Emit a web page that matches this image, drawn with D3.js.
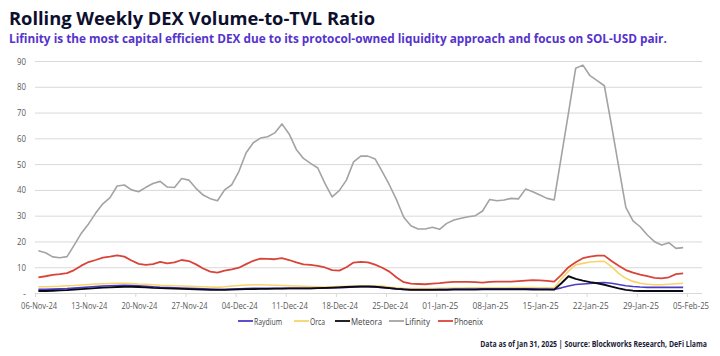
<!DOCTYPE html>
<html>
<head>
<meta charset="utf-8">
<script src="https://cdn.jsdelivr.net/npm/d3@7/dist/d3.min.js"></script>
<style>
  html, body { margin: 0; padding: 0; background: #ffffff; }
  svg { display: block; }
  text { font-family: "Open Sans", "Noto Sans", sans-serif; }
</style>
</head>
<body>
<svg id="chart" width="720" height="356"></svg>
<script>
// ---------------- DATA ----------------
const startDate = "2024-11-06";
const dayCount = 91;
const seriesNames = ["Raydium", "Orca", "Meteora", "Lifinity", "Phoenix"];
const seriesColors = ["#4b3cc8", "#f7d46a", "#0a0a14", "#a3a3a3", "#d9443a"];

const raydium = [1.4,1.4,1.5,1.6,1.7,1.9,2.1,2.3,2.5,2.7,
  2.8,2.9,3.0,2.9,2.8,2.6,2.4,2.2,2.1,2.0,
  1.9,1.8,1.7,1.6,1.5,1.4,1.4,1.5,1.6,1.7,
  1.8,1.8,1.8,1.8,1.8,1.8,1.8,1.8,1.8,1.9,
  1.9,2.0,2.1,2.2,2.3,2.4,2.4,2.3,2.1,1.9,
  1.6,1.4,1.3,1.3,1.3,1.3,1.4,1.4,1.5,1.5,
  1.5,1.5,1.6,1.6,1.6,1.6,1.6,1.6,1.6,1.6,
  1.5,1.5,1.4,2.0,2.7,3.3,3.5,3.7,4.0,4.1,
  3.8,3.3,2.8,2.5,2.3,2.2,2.2,2.2,2.2,2.2,2.2];

const orca = [2.4,2.4,2.5,2.6,2.8,2.9,3.1,3.3,3.5,3.6,
  3.7,3.8,3.8,3.7,3.5,3.4,3.2,3.0,2.9,2.8,
  2.7,2.6,2.5,2.4,2.3,2.2,2.4,2.7,2.9,3.1,
  3.2,3.2,3.1,3.0,2.9,2.8,2.7,2.6,2.5,2.4,
  2.3,2.4,2.5,2.6,2.7,2.8,2.8,2.7,2.7,2.3,
  2.0,1.8,1.7,1.7,1.7,1.7,1.8,1.8,1.9,1.9,
  2.0,2.0,2.0,2.0,2.0,2.0,2.1,2.1,2.1,2.1,
  2.0,2.0,2.0,5.5,8.5,10.9,11.5,12.0,12.2,12.3,
  10.2,7.6,5.7,4.5,3.8,3.4,3.2,3.2,3.4,3.6,3.8];

const meteora = [0.8,0.8,0.9,1.0,1.1,1.3,1.5,1.7,1.9,2.1,
  2.2,2.3,2.4,2.4,2.3,2.2,2.0,1.9,1.8,1.7,
  1.6,1.5,1.4,1.3,1.2,1.2,1.2,1.3,1.4,1.5,
  1.5,1.6,1.6,1.7,1.7,1.8,1.8,1.8,1.8,1.9,
  2.0,2.1,2.2,2.3,2.4,2.5,2.5,2.4,2.2,1.9,
  1.6,1.4,1.2,1.2,1.2,1.2,1.2,1.2,1.3,1.3,
  1.3,1.3,1.4,1.4,1.4,1.4,1.4,1.4,1.4,1.3,
  1.3,1.3,1.3,3.8,6.5,5.5,4.8,4.2,3.8,3.2,
  2.5,1.8,1.2,0.9,0.8,0.8,0.8,0.8,0.8,0.8,0.8];

const lifinity = [16.4,15.6,14.0,13.7,14.1,18.6,23.2,26.8,31.0,34.6,
  37.0,41.5,41.9,40.0,39.3,41.0,42.5,43.3,41.1,40.9,
  44.4,43.8,40.6,38.0,36.6,35.8,40.0,42.0,47.2,54.4,
  58.3,60.1,60.6,62.1,65.6,61.7,55.7,52.2,50.3,48.5,
  42.5,37.3,39.7,43.8,50.9,53.1,53.1,52.0,47.1,41.9,
  36.1,29.4,26.1,24.8,24.8,25.5,24.7,27.0,28.3,29.0,
  29.6,30.0,31.8,36.3,35.8,36.1,36.7,36.5,40.3,39.3,
  38.0,36.7,36.1,53.0,70.0,87.2,88.4,84.3,82.4,80.4,
  65.0,49.0,33.2,28.0,25.7,22.5,19.9,18.6,19.5,17.3,17.6];

const phoenix = [6.1,6.5,7.0,7.3,7.7,8.9,10.6,12.0,12.8,13.7,
  14.1,14.6,14.1,12.6,11.3,10.9,11.2,12.1,11.5,11.9,
  12.8,12.4,11.1,9.5,8.3,7.9,8.7,9.2,9.8,11.2,
  12.5,13.3,13.2,13.1,13.5,12.8,11.9,11.1,10.9,10.5,
  9.9,8.9,8.7,10.0,11.8,12.1,11.9,11.0,9.8,8.3,
  6.0,4.2,3.6,3.5,3.4,3.6,3.8,4.1,4.3,4.3,
  4.3,4.2,4.0,4.3,4.4,4.4,4.4,4.6,4.8,5.0,
  4.9,4.7,4.4,7.0,10.0,11.9,13.5,14.1,14.5,14.5,
  12.4,10.6,8.9,7.9,7.1,6.5,5.9,5.7,6.1,7.3,7.6];

const yTickValues = [0,10,20,30,40,50,60,70,80,90];
const xTickLabels = ["06-Nov-24","13-Nov-24","20-Nov-24","27-Nov-24","04-Dec-24","11-Dec-24","18-Dec-24","25-Dec-24","01-Jan-25","08-Jan-25","15-Jan-25","22-Jan-25","29-Jan-25","05-Feb-25"];

const titleText = "Rolling Weekly DEX Volume-to-TVL Ratio";
const subtitleText = "Lifinity is the most capital efficient DEX due to its protocol-owned liquidity approach and focus on SOL-USD pair.";
const sourceText = "Data as of Jan 31, 2025 | Source: Blockworks Research, DeFi Llama";

// ---------------- CHART ----------------
const svg = d3.select("#chart");
const DAY = 86400000;
const t0 = new Date(startDate + "T00:00:00Z");
const dates = d3.range(dayCount).map(i => new Date(t0.getTime() + i * DAY + 0.47 * DAY));
const allSeries = [raydium, orca, meteora, lifinity, phoenix];

const plotLeft = 35, plotRight = 702, plotTop = 61, plotBottom = 293;
const x = d3.scaleUtc()
  .domain([t0, new Date(t0.getTime() + 93.1 * DAY)])
  .range([plotLeft, plotRight]);
const y = d3.scaleLinear().domain([0, 90]).range([plotBottom, plotTop]);

const parseTick = d3.utcParse("%d-%b-%y");
const tickDates = xTickLabels.map(s => parseTick(s));

// titles
svg.append("text").attr("x", 9).attr("y", 25)
  .attr("font-family", "'DejaVu Sans', sans-serif")
  .attr("font-weight", "bold").attr("font-size", 18.5)
  .attr("fill", "#0d0f2e")
  .attr("textLength", 366).attr("lengthAdjust", "spacingAndGlyphs")
  .text(titleText);
svg.append("g").attr("transform", "translate(9,43) scale(0.745,1)")
  .append("text").attr("x", 0).attr("y", 0)
  .attr("font-family", "'DejaVu Sans', sans-serif")
  .attr("font-weight", "bold").attr("font-size", 12)
  .attr("fill", "#5533cc")
  .attr("textLength", 883).attr("lengthAdjust", "spacingAndGlyphs")
  .text(subtitleText);

// gridlines + y labels
const yAxis = d3.axisLeft(y).tickValues(yTickValues)
  .tickSize(-(plotRight - plotLeft)).tickPadding(9)
  .tickFormat(d => d === 0 ? "-" : d3.format("d")(d));
const gy = svg.append("g").attr("transform", `translate(${plotLeft},0)`).call(yAxis);
gy.select(".domain").remove();
gy.selectAll(".tick line").attr("stroke", "#d9d9d9").attr("stroke-width", 1);
gy.selectAll(".tick text").attr("fill", "#595959").attr("font-size", 9.5)
  .attr("font-family", "'Open Sans', sans-serif")
  .each(function(d) {
    if (d !== 0) d3.select(this).attr("textLength", 9).attr("lengthAdjust", "spacingAndGlyphs");
  });

// x axis
const xAxis = d3.axisBottom(x).tickValues(tickDates)
  .tickSize(4).tickPadding(5)
  .tickFormat((d, i) => xTickLabels[i]);
const gx = svg.append("g").attr("transform", `translate(0,${plotBottom})`).call(xAxis);
gx.select(".domain").attr("stroke", "#d9d9d9").attr("d", `M${plotLeft},0.5H${plotRight}`);
gx.selectAll(".tick line").attr("stroke", "#d9d9d9");
gx.selectAll(".tick text").attr("fill", "#595959").attr("font-size", 9.5)
  .attr("font-family", "'Open Sans', sans-serif")
  .attr("dx", 3.6)
  .attr("textLength", 36).attr("lengthAdjust", "spacingAndGlyphs");

// lines
const line = d3.line().x((d, i) => x(dates[i])).y(d => y(d));
const drawOrder = [3, 4, 1, 0, 2];
const widths = [1.6, 1.6, 1.9, 1.6, 1.8];
drawOrder.forEach(k => {
  svg.append("path").datum(allSeries[k])
    .attr("fill", "none").attr("stroke", seriesColors[k])
    .attr("stroke-width", widths[k]).attr("stroke-linejoin", "round")
    .attr("d", line);
});

// legend
const legendX = [238, 294, 335, 389, 438];
const legendTextW = [28, 15, 31, 25, 29];
const lg = svg.append("g");
seriesNames.forEach((n, i) => {
  lg.append("line").attr("x1", legendX[i]).attr("x2", legendX[i] + 15)
    .attr("y1", 321).attr("y2", 321)
    .attr("stroke", seriesColors[i]).attr("stroke-width", 1.8);
  lg.append("text").attr("x", legendX[i] + 16).attr("y", 324.5)
    .attr("font-size", 9.5).attr("fill", "#404040")
    .attr("font-family", "'Open Sans', sans-serif")
    .attr("textLength", legendTextW[i]).attr("lengthAdjust", "spacingAndGlyphs")
    .text(n);
});

// source (horizontally condensed via transform)
svg.append("g").attr("transform", "translate(707,347) scale(0.7,1)")
  .append("text").attr("x", 0).attr("y", 0).attr("text-anchor", "end")
  .attr("font-family", "'DejaVu Sans', sans-serif")
  .attr("font-weight", "bold").attr("font-size", 8)
  .attr("fill", "#1a1c3a")
  .attr("textLength", 324).attr("lengthAdjust", "spacingAndGlyphs")
  .text(sourceText);
</script>
</body>
</html>
